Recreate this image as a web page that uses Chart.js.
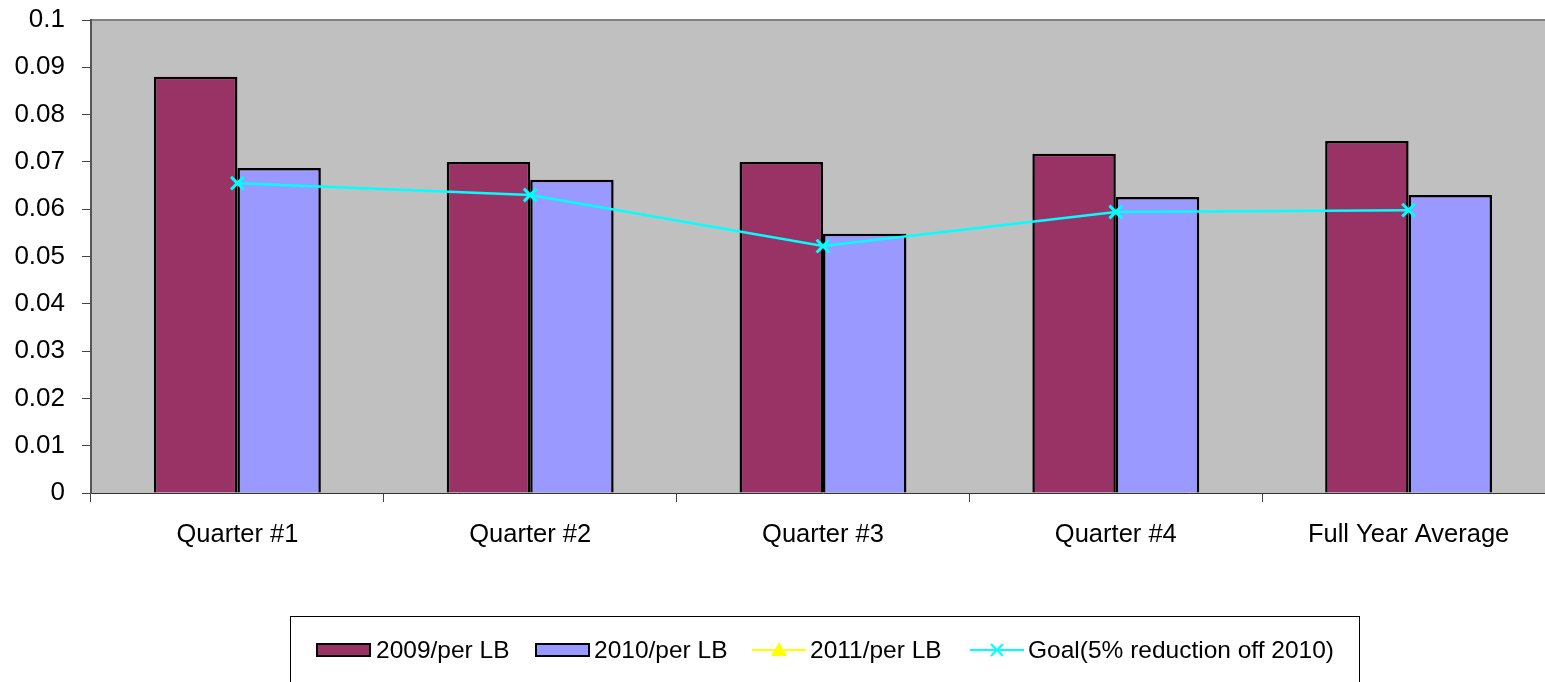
<!DOCTYPE html>
<html>
<head>
<meta charset="utf-8">
<script src="https://cdn.jsdelivr.net/npm/chart.js@4/dist/chart.umd.min.js"></script>
<style>
html,body{margin:0;padding:0;background:#fff;overflow:hidden;}
#wrap{width:1545px;height:682px;overflow:hidden;}
canvas{display:block;}
</style>
</head>
<body>
<div id="wrap"><canvas id="chart" width="1570" height="682"></canvas></div>
<script>
const categories=['Quarter #1','Quarter #2','Quarter #3','Quarter #4','Full Year Average'];
const perLb2009=[0.088,0.070,0.070,0.0717,0.0744];
const perLb2010=[0.0687,0.0662,0.0548,0.0626,0.0630];
const perLb2011=[null,null,null,null,null];
const goal=[0.0655,0.0630,0.0522,0.0594,0.0598];
const yTicks=[0,0.01,0.02,0.03,0.04,0.05,0.06,0.07,0.08,0.09,0.1];

const FONT='"Liberation Sans", Arial, sans-serif';

// gray plot area + top border line
const plotBg={
    id:'plotBg',
    beforeDraw(c){
        const a=c.chartArea,ctx=c.ctx;
        ctx.save();
        ctx.fillStyle='#c0c0c0';
        ctx.fillRect(a.left,a.top,a.right-a.left,a.bottom-a.top);
        ctx.strokeStyle='#808080';ctx.lineWidth=2;
        ctx.beginPath();ctx.moveTo(a.left,a.top);ctx.lineTo(a.right,a.top);ctx.stroke();
        ctx.restore();
    }
};

// Excel style legend in a framed box
const boxLegend={
    id:'boxLegend',
    afterDraw(c){
        const ctx=c.ctx,ds=c.data.datasets;
        ctx.save();
        ctx.strokeStyle='#000';ctx.lineWidth=1;
        ctx.strokeRect(290.5,616.5,1069,120);
        const y=650;
        const items=[{x:317,tx:376},{x:536,tx:594},{x:752,tx:810},{x:970,tx:1028}];
        ctx.font='24.5px '+FONT;ctx.fillStyle='#000';ctx.textBaseline='middle';
        ds.forEach((d,i)=>{
            const it=items[i];
            if(d.type==='line'){
                ctx.strokeStyle=d.borderColor;ctx.lineWidth=2;
                ctx.beginPath();ctx.moveTo(it.x,y);ctx.lineTo(it.tx-4,y);ctx.stroke();
                const cx=(it.x+it.tx-4)/2;
                if(d.pointStyle==='triangle'){
                    ctx.fillStyle=d.borderColor;
                    ctx.beginPath();ctx.moveTo(cx,y-8);ctx.lineTo(cx+8,y+6);ctx.lineTo(cx-8,y+6);ctx.closePath();ctx.fill();
                }else{
                    ctx.beginPath();ctx.moveTo(cx-6,y-6);ctx.lineTo(cx+6,y+6);ctx.moveTo(cx+6,y-6);ctx.lineTo(cx-6,y+6);ctx.stroke();
                }
            }else{
                ctx.fillStyle=d.backgroundColor;
                ctx.fillRect(it.x,y-6,53,12);
                ctx.strokeStyle='#000';ctx.lineWidth=2;
                ctx.strokeRect(it.x,y-6,53,12);
            }
            ctx.fillStyle='#000';
            ctx.fillText(d.label,it.tx,y+1);
        });
        ctx.restore();
    }
};

new Chart(document.getElementById('chart'),{
    type:'bar',
    data:{
        labels:categories,
        datasets:[
            {label:'2009/per LB',data:perLb2009,backgroundColor:'#993366',borderColor:'#000',borderWidth:2.5,borderSkipped:'bottom',categoryPercentage:0.57,barPercentage:1,order:2},
            {label:'2010/per LB',data:perLb2010,backgroundColor:'#9999ff',borderColor:'#000',borderWidth:2.5,borderSkipped:'bottom',categoryPercentage:0.57,barPercentage:1,order:2},
            {type:'line',label:'2011/per LB',data:perLb2011,borderColor:'#ffff00',backgroundColor:'#ffff00',borderWidth:2,pointStyle:'triangle',pointRadius:7,order:1},
            {type:'line',label:'Goal(5% reduction off 2010)',data:goal,borderColor:'#00ffff',backgroundColor:'#00ffff',borderWidth:2.5,pointStyle:'crossRot',pointRadius:9,pointBorderWidth:3,pointHoverRadius:9,tension:0,order:1}
        ]
    },
    options:{
        responsive:false,animation:false,
        layout:{padding:{top:20,right:15,left:0,bottom:0}},
        plugins:{legend:{display:false},tooltip:{enabled:false}},
        scales:{
            x:{
                offset:true,
                afterFit(s){s.height=189;s.paddingLeft=0;s.paddingRight=0;},
                grid:{offset:true,drawOnChartArea:false,drawTicks:true,tickLength:9,color:'#444'},
                border:{color:'#333',width:1},
                ticks:{color:'#000',font:{family:FONT,size:25.5},padding:18,maxRotation:0}
            },
            y:{
                min:0,max:0.1,
                afterFit(s){s.width=91;s.paddingTop=0;s.paddingBottom=0;},
                afterBuildTicks(s){s.ticks=yTicks.map(v=>({value:v}));},
                grid:{drawOnChartArea:false,drawTicks:true,tickLength:9,color:'#444'},
                border:{color:'#555',width:2},
                ticks:{color:'#000',font:{family:FONT,size:26},padding:17,callback:v=>String(Number(v.toFixed(2)))}
            }
        }
    },
    plugins:[plotBg,boxLegend]
});
</script>
</body>
</html>
